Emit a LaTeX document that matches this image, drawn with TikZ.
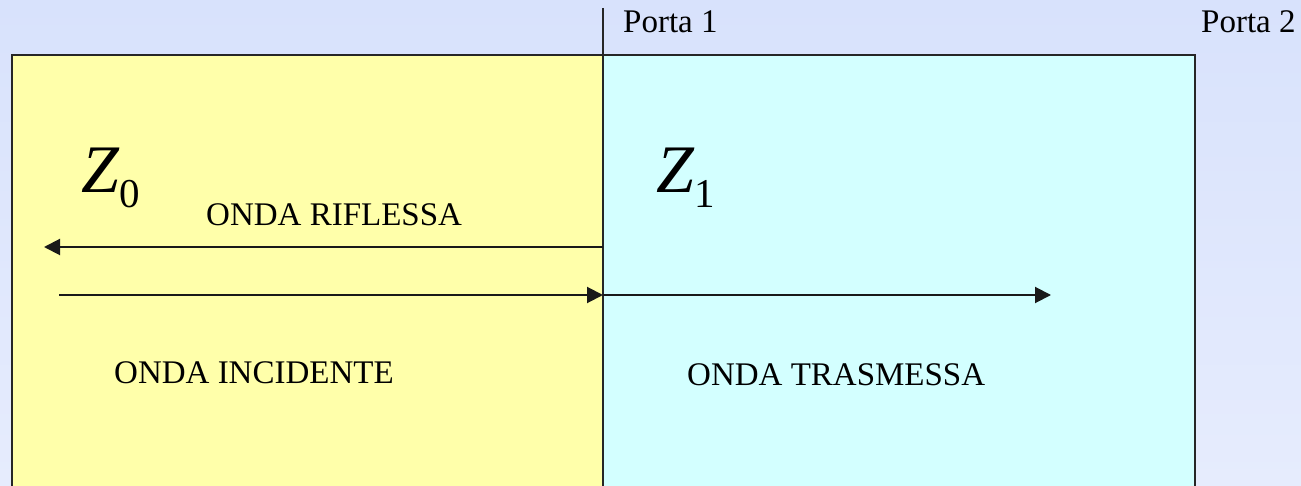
\documentclass[tikz,border=0pt]{standalone}
\usepackage{fontspec}
\setmainfont{Liberation Serif}
\usetikzlibrary{arrows.meta}
\definecolor{bgA}{RGB}{216,226,252}
\definecolor{bgB}{RGB}{230,236,253}
\definecolor{yel}{RGB}{255,255,170}
\definecolor{cya}{RGB}{211,255,255}
\tikzset{
  region/.style={draw=black!85, line width=1.6pt},
  wave/.style={draw=black!90, line width=2pt, -{Triangle[length=16pt,width=16pt]}},
  lbl/.style={inner sep=0pt, anchor=base west, font=\fontsize{33}{36}\selectfont},
  imp/.style={inner sep=0pt, anchor=base west, font=\fontsize{68}{72}\selectfont}
}
\begin{document}
\begin{tikzpicture}[x=1pt,y=-1pt]
\useasboundingbox (0,0) rectangle (1301,486);
\shade[left color=bgA, right color=bgB, shading angle=0] (0,0) rectangle (1301,486);
\shade[top color=bgA, bottom color=bgB, opacity=0.5] (0,0) rectangle (1301,486);
% regions
\fill[yel] (12,55) rectangle (603,492);
\fill[cya] (603,55) rectangle (1195,492);
\draw[region] (12,492) -- (12,55) -- (1195,55) -- (1195,492);
\coordinate (ptop) at (603,8);
\coordinate (pbot) at (603,492);
\draw[region] (ptop) -- (pbot);
% labels
\node[lbl] (p1) at (623,33) {Porta 1};
\node[lbl] (p2) at (1201,33) {Porta 2};
\node[imp] (z0) at (81,193) {\textit{Z}\raisebox{-15pt}{\fontsize{41}{44}\selectfont 0}};
\node[imp] (z1) at (656,193) {\textit{Z}\raisebox{-15pt}{\fontsize{41}{44}\selectfont 1}};
\node[lbl] (rif) at (206,226) {ONDA RIFLESSA};
\node[lbl] (inc) at (114,383) {ONDA INCIDENTE};
\node[lbl] (tra) at (687,385) {ONDA TRASMESSA};
% waves
\coordinate (rS) at (603,247);
\coordinate (rE) at (44,247);
\coordinate (iS) at (59,295);
\coordinate (iE) at (603,295);
\coordinate (tE) at (1051,295);
\draw[wave] (rS) -- (rE);
\draw[wave] (iS) -- (iE);
\draw[wave] (iE) -- (tE);
\end{tikzpicture}
\end{document}
